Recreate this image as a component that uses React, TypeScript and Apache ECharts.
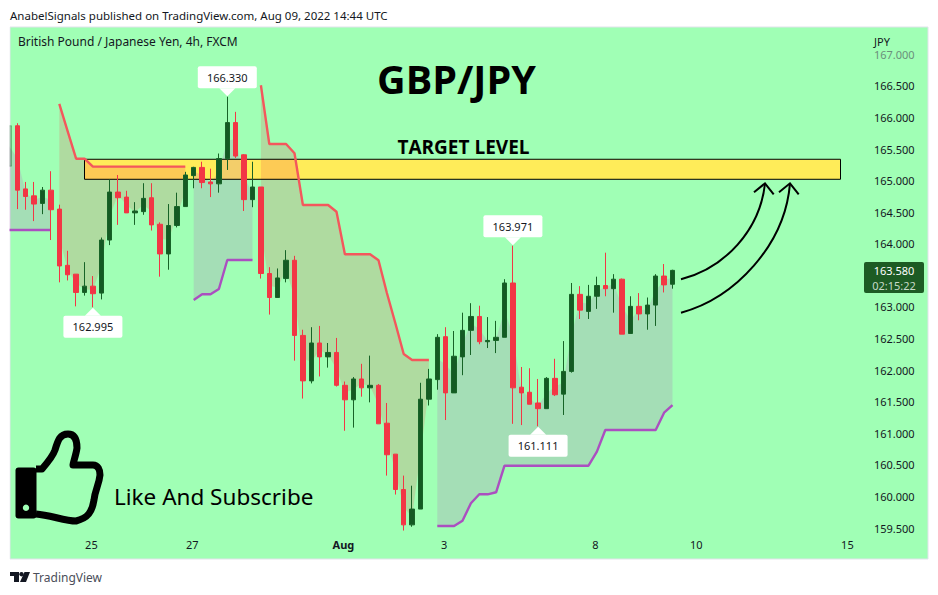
import React, { useEffect, useRef } from "react";
import * as echarts from "echarts";

// [open, close, low, high] for each 4h bar
const candles: number[][] = [
  [165.23, 165.87, 165.1, 165.88],
  [165.87, 164.85, 164.55, 165.91], [164.87, 164.75, 164.54, 164.98], [164.76, 164.63, 164.36, 164.98],
  [164.64, 164.85, 164.47, 164.9], [164.85, 164.54, 164.06, 165.15], [164.55, 163.65, 163.39, 164.62],
  [163.66, 163.51, 163.42, 163.89], [163.52, 163.23, 163.01, 163.52], [163.23, 163.33, 163.18, 163.71],
  [163.33, 163.21, 162.995, 163.49], [163.22, 164.06, 163.12, 164.1], [164.06, 164.82, 163.98, 165.02],
  [164.82, 164.73, 164.3, 165.09], [164.74, 164.49, 164.49, 164.84], [164.49, 164.52, 164.3, 164.66],
  [164.51, 164.72, 164.46, 164.96], [164.73, 164.3, 164.21, 164.96], [164.31, 163.84, 163.48, 164.34],
  [163.84, 164.29, 163.59, 164.63], [164.29, 164.59, 164.26, 164.81], [164.59, 165.09, 164.59, 165.14],
  [165.08, 165.21, 164.88, 165.22], [165.21, 164.97, 164.88, 165.3], [164.98, 164.95, 164.74, 165.19],
  [164.95, 165.35, 164.81, 165.43], [165.35, 165.92, 165.17, 166.33], [165.92, 165.39, 165.36, 166.09],
  [165.41, 164.7, 164.52, 165.42], [164.7, 164.9, 164.58, 165.3], [164.9, 163.53, 163.45, 164.9],
  [163.53, 163.15, 162.88, 163.63], [163.15, 163.46, 163.15, 163.61], [163.45, 163.74, 163.39, 163.9],
  [163.74, 162.55, 162.15, 163.81], [162.55, 161.83, 161.55, 162.64], [161.83, 162.43, 161.79, 162.68],
  [162.43, 162.21, 161.9, 162.7], [162.21, 162.28, 162.04, 162.43], [162.28, 161.76, 161.74, 162.51],
  [161.76, 161.53, 161.04, 161.82], [161.53, 161.86, 161.09, 161.89], [161.86, 161.72, 161.58, 162.1],
  [161.72, 161.76, 161.49, 162.23], [161.76, 161.15, 161.15, 161.78], [161.16, 160.66, 160.33, 161.48],
  [160.67, 160.11, 160.03, 160.67], [160.11, 159.55, 159.46, 160.33], [159.55, 159.8, 159.52, 160.17],
  [159.8, 161.54, 159.8, 161.8], [161.54, 161.86, 161.44, 162.02], [161.85, 162.52, 161.69, 162.57],
  [162.53, 161.64, 161.21, 162.68], [161.64, 162.22, 161.64, 162.62], [162.21, 162.63, 161.92, 162.91],
  [162.63, 162.85, 162.24, 163.06], [162.85, 162.45, 162.41, 163.02], [162.45, 162.47, 162.35, 162.84],
  [162.47, 162.52, 162.27, 162.78], [162.52, 163.38, 162.52, 163.44], [163.38, 161.72, 161.15, 163.971],
  [161.73, 161.64, 161.13, 162.05], [161.65, 161.46, 161.46, 162.03], [161.48, 161.39, 161.111, 161.86],
  [161.39, 161.87, 161.39, 161.89], [161.87, 161.61, 161.59, 162.18], [161.62, 161.98, 161.29, 162.46],
  [161.98, 163.2, 161.96, 163.38], [163.2, 162.95, 162.81, 163.33], [162.93, 163.17, 162.81, 163.35],
  [163.17, 163.34, 162.97, 163.48], [163.34, 163.29, 163.17, 163.86], [163.29, 163.44, 162.91, 163.52],
  [163.44, 162.57, 162.57, 163.45], [162.58, 163.01, 162.58, 163.17], [163.01, 162.89, 162.79, 163.22],
  [162.89, 163.03, 162.64, 163.15], [163.03, 163.49, 162.7, 163.52], [163.49, 163.35, 163.23, 163.68],
  [163.36, 163.58, 163.29, 163.59],
];

const barSlots = 103;
const dateLabels: Record<number, string> = { 10: "25", 22: "27", 40: "Aug", 52: "3", 70: "8", 82: "10", 100: "15" };
const categories = Array.from({ length: barSlots }, (_, i) => dateLabels[i] ?? "");
const priceTicksHidden = [159, 163.5, 167.5];

// supertrend runs: first bar index and the line's values
const redStartA = 6;
const redTrendA = [166.215, 165.781, 165.348, 165.348, 165.222, 165.222, 165.222, 165.222, 165.222, 165.222, 165.222, 165.222, 165.222, 165.222, 165.222, 165.222];
const redStartB = 30;
const redTrendB = [166.511, 165.581, 165.581, 165.581, 165.434, 164.615, 164.615, 164.615, 164.615, 164.509, 163.835, 163.835, 163.835, 163.835, 163.74, 163.222, 162.747, 162.256, 162.161, 162.161, 162.161];
const purpleStartA = 0;
const purpleTrendA = [164.219, 164.219, 164.219, 164.219, 164.219, 164.219];
const purpleStartB = 22;
const purpleTrendB = [163.111, 163.201, 163.201, 163.285, 163.744, 163.744, 163.744, 163.744];
const purpleStartC = 51;
const purpleTrendC = [159.532, 159.532, 159.532, 159.616, 159.892, 160.034, 160.034, 160.066, 160.487, 160.487, 160.487, 160.487, 160.487, 160.487, 160.487, 160.487, 160.487, 160.487, 160.487, 160.709, 161.052, 161.052, 161.052, 161.052, 161.052, 161.052, 161.052, 161.326, 161.447];

const targetZone = { startBar: 9, endBar: 99, top: 165.339, bottom: 165.022 };
// bar index, price, 1 = callout above the bar, -1 = below
const callouts: [number, number, number][] = [[26, 166.33, 1], [10, 162.995, -1], [60, 163.971, 1], [63, 161.111, -1]];

const RED_FILL = "rgba(242,54,69,0.18)";
const PURPLE_FILL = "rgba(186,60,190,0.17)";
const RED_LINE = "#f4575c";
const PURPLE_LINE = "#ab4fc0";
const BG = "#a0ffb5";
const FONT = '"Noto Sans", sans-serif';

const trendRuns = [
  { start: redStartA, values: redTrendA, fill: RED_FILL },
  { start: redStartB, values: redTrendB, fill: RED_FILL },
  { start: purpleStartA, values: purpleTrendA, fill: PURPLE_FILL },
  { start: purpleStartB, values: purpleTrendB, fill: PURPLE_FILL },
  { start: purpleStartC, values: purpleTrendC, fill: PURPLE_FILL },
];

function lineData(start: number, values: number[]) {
  const out: (number | null)[] = new Array(barSlots).fill(null);
  values.forEach((v, i) => (out[start + i] = v));
  return out;
}

const lineSeries = (start: number, values: number[], color: string) => ({
  type: "line",
  data: lineData(start, values),
  showSymbol: false,
  connectNulls: false,
  z: 3,
  lineStyle: { color, width: 2.4 },
  silent: true,
});

const THUMB =
  "M36 469 L42 469 C48 462 53 456 55 450 C58 440 60 434 68 434 C75 434 77 440 77 448 C76 455 73 463 73 465 L93 465 C98 465 100 470 100 475 C99 485 95 490 94 500 C92 512 88 518 76 521 C65 521 50 515 36 514";
const TV_LOGO = "M10 572 L19 572 L19 582 L14 582 L14 576 L10 576 Z M24.5 572 L30 572 L26 582 L20 582 Z";

export default function App() {
  const ref = useRef<HTMLDivElement>(null);
  useEffect(() => {
    echarts.graphic.registerShape("thumbOutline", echarts.graphic.extendPath(THUMB, {}));
    echarts.graphic.registerShape("tvLogo", echarts.graphic.extendPath(TV_LOGO, {}));
    const chart = echarts.init(ref.current!, undefined, { renderer: "svg" });
    const txt = (text: string, x: number, y: number, font: string, fill = "#131722", textAlign = "left", z = 20) => ({
      type: "text",
      z,
      style: { text, x, y, font, fill, textAlign, textVerticalAlign: "middle" },
    });
    chart.setOption({
      animation: false,
      backgroundColor: "#ffffff",
      grid: { left: 4.7, right: 68.1, top: 22.8, bottom: 35.4, show: false },
      xAxis: {
        type: "category",
        data: categories,
        boundaryGap: true,
        axisLine: { show: false },
        axisTick: { show: false },
        splitLine: { show: false },
        axisLabel: {
          inside: true,
          interval: 0,
          margin: 10,
          padding: [0, 3, 0, 0],
          hideOverlap: false,
          color: "#131722",
          fontFamily: FONT,
          fontSize: 11,
          formatter: (v: string) => (v === "Aug" ? "{b|Aug}" : v),
          rich: { b: { fontWeight: "bold", fontFamily: FONT, fontSize: 11, color: "#131722" } },
        },
      },
      yAxis: {
        type: "value",
        position: "right",
        min: 159,
        max: 167.5,
        interval: 0.5,
        axisLine: { show: false },
        axisTick: { show: false },
        splitLine: { show: false },
        axisLabel: {
          align: "left",
          margin: 4,
          fontFamily: FONT,
          fontSize: 11,
          showMinLabel: true,
          showMaxLabel: true,
          color: (v: number) => (v >= 167 ? "#6b8f7b" : "#131722"),
          formatter: (v: number) => (priceTicksHidden.includes(v) ? "" : v.toFixed(3)),
        },
      },
      graphic: [
        { type: "rect", z: -10, shape: { x: 10, y: 27, width: 918, height: 532 }, style: { fill: BG, stroke: "#e0e3eb", lineWidth: 1 } },
        { type: "rect", z: 15, shape: { x: 0, y: 27, width: 9.5, height: 532 }, style: { fill: "#ffffff" } },
        txt("AnabelSignals published on TradingView.com, Aug 09, 2022 14:44 UTC", 10, 15, `11.5px ${FONT}`),
        txt("British Pound / Japanese Yen, 4h, FXCM", 18, 41.5, `12px ${FONT}`),
        txt("JPY", 874, 41, `11px ${FONT}`),
        txt("GBP/JPY", 456.5, 79, `bold 39.5px "Open Sans", sans-serif`, "#000000", "center"),
        txt("TARGET LEVEL", 463.5, 146.5, `bold 19px "Open Sans", sans-serif`, "#000000", "center"),
        txt("Like And Subscribe", 114, 496, `22.5px "Noto Sans", sans-serif`, "#000000"),
        { type: "bezierCurve", z: 20, shape: { x1: 681, y1: 279.3, cpx1: 725, cpy1: 268, cpx2: 760, cpy2: 230, x2: 765, y2: 183.3 }, style: { stroke: "#000", lineWidth: 2, fill: "none" } },
        { type: "bezierCurve", z: 20, shape: { x1: 681, y1: 312.7, cpx1: 735, cpy1: 298, cpx2: 785, cpy2: 245, x2: 790, y2: 183.3 }, style: { stroke: "#000", lineWidth: 2, fill: "none" } },
        { type: "polyline", z: 20, shape: { points: [[754, 192.3], [765, 183.3], [773.7, 194.3]] }, style: { stroke: "#000", lineWidth: 2, fill: "none" } },
        { type: "polyline", z: 20, shape: { points: [[779, 192.3], [790, 183.3], [798.7, 194.3]] }, style: { stroke: "#000", lineWidth: 2, fill: "none" } },
        { type: "rect", z: 20, shape: { x: 15.5, y: 467.5, width: 21, height: 51, r: 3 }, style: { fill: "#000" } },
        { type: "circle", z: 21, shape: { cx: 26, cy: 507.7, r: 3.2 }, style: { fill: BG } },
        { type: "thumbOutline", z: 20, style: { fill: "none", stroke: "#000", lineWidth: 7, lineJoin: "round" } },
        { type: "rect", z: 20, shape: { x: 864, y: 262, width: 60, height: 31, r: 2 }, style: { fill: "#1d5b24" } },
        txt("163.580", 894, 270.5, `11px ${FONT}`, "#ffffff", "center"),
        txt("02:15:22", 894, 285, `11px ${FONT}`, "#c6dac8", "center"),
        { type: "tvLogo", z: 20, style: { fill: "#131722" } },
        { type: "circle", z: 20, shape: { cx: 21.5, cy: 574.2, r: 2.2 }, style: { fill: "#131722" } },
        txt("TradingView", 33, 577.5, `12px ${FONT}`, "#4a4e59"),
      ],
      series: [
        {
          type: "custom",
          z: 1,
          silent: true,
          data: [[targetZone.startBar]],
          clip: false,
          renderItem: (_p: any, api: any) => {
            const a = api.coord([targetZone.startBar, targetZone.top]);
            const b = api.coord([targetZone.endBar, targetZone.bottom]);
            return { type: "rect", shape: { x: a[0], y: a[1], width: b[0] - a[0], height: b[1] - a[1] }, style: { fill: "#ffec59" } };
          },
        },
        {
          type: "custom",
          z: 2,
          silent: true,
          data: trendRuns.map((_, i) => [i]),
          renderItem: (p: any, api: any) => {
            const run = trendRuns[p.dataIndex];
            const upper = run.values.map((v, i) => api.coord([run.start + i, v]));
            const lower = run.values
              .map((_, i) => {
                const c = candles[run.start + i];
                return api.coord([run.start + i, (c[0] + c[1]) / 2]);
              })
              .reverse();
            return { type: "polygon", shape: { points: [...upper, ...lower] }, style: { fill: run.fill } };
          },
        },
        {
          type: "custom",
          z: 2,
          silent: true,
          data: [[targetZone.startBar]],
          clip: false,
          renderItem: (_p: any, api: any) => {
            const a = api.coord([targetZone.startBar, targetZone.top]);
            const b = api.coord([targetZone.endBar, targetZone.bottom]);
            return { type: "rect", z2: 5, shape: { x: a[0], y: a[1], width: b[0] - a[0], height: b[1] - a[1] }, style: { fill: "none", stroke: "#000", lineWidth: 1 } };
          },
        },
        lineSeries(redStartA, redTrendA, RED_LINE),
        lineSeries(redStartB, redTrendB, RED_LINE),
        lineSeries(purpleStartA, purpleTrendA, PURPLE_LINE),
        lineSeries(purpleStartB, purpleTrendB, PURPLE_LINE),
        lineSeries(purpleStartC, purpleTrendC, PURPLE_LINE),
        {
          type: "candlestick",
          z: 4,
          silent: true,
          barWidth: 5,
          data: candles.map((c, i) => (i === 0 ? { value: c, itemStyle: { opacity: 0.3 } } : c)),
          itemStyle: { color: "#145a23", color0: "#f23645", borderColor: "#176327", borderColor0: "#f23645", borderWidth: 1 },
        },
        {
          type: "custom",
          z: 5,
          silent: true,
          clip: false,
          data: callouts.map((c) => [c[0], c[1], c[2]]),
          renderItem: (p: any, api: any) => {
            const [k, price, dir] = callouts[p.dataIndex];
            const [x, y] = api.coord([k, price]);
            const tipY = y - dir * 0.5;
            const neckY = tipY - dir * 8;
            const farY = neckY - dir * 22;
            const top = Math.min(neckY, farY);
            return {
              type: "group",
              children: [
                { type: "rect", shape: { x: x - 29.5, y: top, width: 59, height: 22, r: 2 }, style: { fill: "#ffffff" } },
                { type: "polygon", shape: { points: [[x, tipY], [x - 8, neckY], [x + 8, neckY]] }, style: { fill: "#ffffff" } },
                { type: "text", style: { text: price.toFixed(3), x, y: top + 11, font: `11px ${FONT}`, fill: "#131722", textAlign: "center", textVerticalAlign: "middle" } },
              ],
            };
          },
        },
      ],
    });
    return () => chart.dispose();
  }, []);
  return <div ref={ref} style={{ position: "fixed", left: 0, top: 0, width: 938, height: 595 }} />;
}
